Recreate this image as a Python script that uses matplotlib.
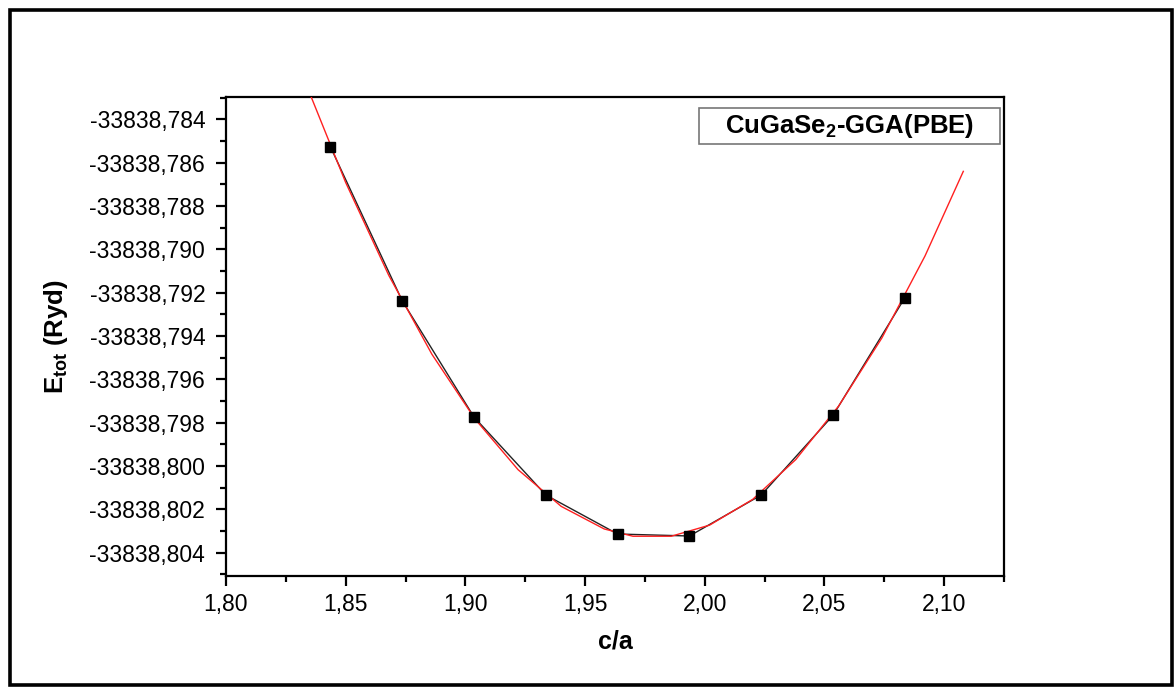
#!/usr/bin/env python
# -*- coding: utf-8 -*-

"""
CuGaSe2 GGA(PBE): total energy versus c/a
"""

import matplotlib
matplotlib.use("Agg")
import matplotlib.pyplot as plt
from matplotlib.patches import Rectangle
from matplotlib.ticker import MultipleLocator, FuncFormatter

# calculated points
c_over_a = [1.8436, 1.8736, 1.9036, 1.9336, 1.9636, 1.9936, 2.0236, 2.0536, 2.0836]
e_tot = [-33838.785264, -33838.792369, -33838.797735, -33838.801333, -33838.803133,
         -33838.803225, -33838.801333, -33838.797656, -33838.792231]

# fitted curve (red)
fit_x = [1.832, 1.850, 1.868, 1.886, 1.904, 1.922, 1.940, 1.958, 1.970,
         1.986, 2.002, 2.020, 2.038, 2.056, 2.074, 2.092, 2.108]
fit_y = [-33838.781984, -33838.786916, -33838.791200, -33838.794836, -33838.797824,
         -33838.800164, -33838.801856, -33838.802900, -33838.803236, -33838.803236,
         -33838.802724, -33838.801536, -33838.799700, -33838.797216, -33838.794084,
         -33838.790304, -33838.786400]

legend_text = "CuGaSe$_\\mathbf{2}$-GGA(PBE)"

plt.rcParams['font.family'] = ['Liberation Sans', 'DejaVu Sans']
plt.rcParams['mathtext.fontset'] = 'custom'
plt.rcParams['mathtext.rm'] = 'Liberation Sans'
plt.rcParams['mathtext.bf'] = 'Liberation Sans:bold'

fig = plt.figure(figsize=(11.74, 6.88), dpi=100)
ax = fig.add_axes([0.1925, 0.1628, 0.6627, 0.6962])

ax.plot(c_over_a, e_tot, color='#222222', lw=1.0, zorder=2)
ax.plot(fit_x, fit_y, color='#ff2020', lw=1.0, zorder=3)
ax.plot(c_over_a, e_tot, ls='none', marker='s', ms=7.5, color='black', zorder=4)

ax.set_xlim(1.80, 2.125)
ax.set_ylim(-33838.80507, -33838.78297)

ax.xaxis.set_major_locator(MultipleLocator(0.05))
ax.xaxis.set_minor_locator(MultipleLocator(0.025))
ax.yaxis.set_major_locator(MultipleLocator(0.002))
ax.yaxis.set_minor_locator(MultipleLocator(0.001))
ax.xaxis.set_major_formatter(FuncFormatter(lambda v, p: f"{v:.2f}".replace('.', ',')))
ax.yaxis.set_major_formatter(FuncFormatter(lambda v, p: f"{v:.3f}".replace('.', ',')))

ax.tick_params(which='major', direction='out', length=7, width=1.6, labelsize=16.5, pad=5)
ax.tick_params(axis='y', which='major', pad=8)
ax.tick_params(which='minor', direction='out', length=4.5, width=1.6)
for s in ax.spines.values():
    s.set_linewidth(1.6)

ax.set_xlabel("c/a", fontsize=18, fontweight='bold', labelpad=10)
ax.set_ylabel("E$_{\\mathbf{tot}}$ (Ryd)", fontsize=18.5, fontweight='bold', labelpad=14)

# legend box
ax.add_patch(Rectangle((0.608, 0.902), 0.387, 0.075, transform=ax.transAxes,
                       facecolor='white', edgecolor='#777777', lw=1.2, zorder=5))
ax.text(0.8015, 0.939, legend_text, transform=ax.transAxes, ha='center', va='center',
        fontsize=18.5, fontweight='bold', zorder=6)

# outer frame
fig.patches.append(Rectangle((10 / 1174, 3 / 688), 1162 / 1174, 675 / 688,
                             transform=fig.transFigure, fill=False,
                             edgecolor='black', lw=2.6))

fig.savefig("out.png", dpi=100)
plt.close(fig)
